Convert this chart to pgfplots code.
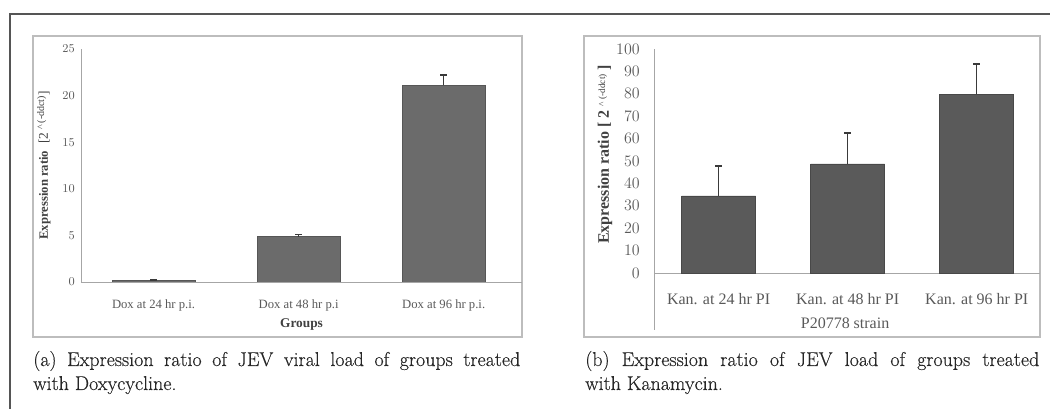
\documentclass[border=0pt]{standalone}
\usepackage{fontspec}
\usepackage{pgfplots}
\pgfplotsset{compat=1.18}
\newfontfamily\tnr{Liberation Serif}
\newfontfamily\capfont[FakeBold=0.35]{Latin Modern Roman}
\definecolor{tick}{HTML}{595959}
\definecolor{lab}{HTML}{404040}
\definecolor{axl}{HTML}{A6A6A6}
\definecolor{bara}{HTML}{6B6B6B}
\definecolor{barb}{HTML}{5A5A5A}
\definecolor{errc}{HTML}{3A3A3A}
\definecolor{frame}{HTML}{555555}
\definecolor{pbox}{HTML}{BDBDBD}
\definecolor{capc}{HTML}{262626}
\begin{document}
\begin{tikzpicture}
\useasboundingbox (0,0) rectangle (787.5pt,-306.75pt);
% outer frame
\draw[frame, line width=1.2pt] (7.5pt,-306.75pt) -- (7.5pt,-10.5pt) -- (787.5pt,-10.5pt);
% panel boxes
\draw[pbox, line width=0.8pt] (24.75pt,-27pt) rectangle (391.5pt,-252.75pt);
\draw[pbox, line width=0.8pt] (438pt,-27pt) rectangle (780pt,-252.75pt);

% ---------- panel (a) ----------
\begin{axis}[
  at={(60.75pt,-211.5pt)}, anchor=south west,
  scale only axis, width=330.75pt, height=174.75pt,
  xmin=-0.5, xmax=2.54, ymin=0, ymax=25,
  axis x line*=bottom, axis y line*=left,
  axis line style={axl, line width=0.7pt, -},
  tick style={draw=none},
  xtick=data,
  xticklabels={Dox at 24 hr p.i., Dox at 48 hr p.i, Dox at 96 hr p.i.},
  ytick={0,5,10,15,20,25},
  xticklabel style={font=\tnr\fontsize{9.5}{11}\selectfont, text=tick, anchor=center, yshift=-13.5pt, inner sep=0pt},
  yticklabel style={font=\tnr\fontsize{9.5}{11}\selectfont, text=tick, anchor=east, inner sep=0pt, xshift=-4.5pt},
  xlabel={Groups},
  xlabel style={font=\tnr\bfseries\fontsize{10}{12}\selectfont, text=lab, at={(axis description cs:0.5,0)}, anchor=center, yshift=-32.25pt},
  ylabel={{\bfseries\fontsize{9.5}{11}\selectfont Expression ratio}\ \ [2\ \raisebox{0.6ex}{\fontsize{7.5}{8}\selectfont\textasciicircum\,(-ddct)}]},
  ylabel style={font=\tnr\fontsize{10}{12}\selectfont, text=lab, at={(axis description cs:-0.084,0.5)}, anchor=center},
  ybar, bar width=62.25pt,
]
\addplot[fill=bara, draw=bara!80!black, line width=0.5pt,
  error bars/.cd, y dir=plus, y explicit,
  error bar style={errc, line width=1pt},
  error mark options={errc, rotate=90, mark size=2.5pt, line width=1pt}]
  coordinates {(0,0.15) +- (0,0.05) (1,4.85) +- (0,0.22) (2,21.1) +- (0,1.1)};
\end{axis}

% ---------- panel (b) ----------
\begin{axis}[
  at={(490.5pt,-204.75pt)}, anchor=south west,
  scale only axis, width=289.5pt, height=168pt,
  xmin=-0.5, xmax=2.49, ymin=0, ymax=100,
  axis x line*=bottom, axis y line*=left,
  axis line style={axl, line width=0.7pt, -},
  tick style={draw=none},
  xtick=data,
  xticklabels={Kan. at 24 hr PI, Kan. at 48 hr PI, Kan. at 96 hr PI},
  ytick={0,10,...,100},
  xticklabel style={font=\tnr\fontsize{12}{14}\selectfont, text=tick, anchor=center, yshift=-15pt, inner sep=0pt},
  yticklabel style={font=\tnr\fontsize{12}{14}\selectfont, text=tick, anchor=east, inner sep=0pt, xshift=-10.5pt},
  xlabel={P20778 strain},
  xlabel style={font=\tnr\fontsize{12}{14}\selectfont, text=tick, at={(axis description cs:0.495,0)}, anchor=center, yshift=-37.5pt},
  ylabel={\bfseries Expression ratio [ 2 \raisebox{0.5ex}{\mdseries\fontsize{7}{8}\selectfont\textasciicircum\ (-ddct)} ]},
  ylabel style={font=\tnr\fontsize{12}{14}\selectfont, text=lab, at={(axis description cs:-0.127,0.53)}, anchor=center},
  ybar, bar width=55.5pt,
  clip=false,
]
\draw[axl, line width=0.7pt] (rel axis cs:0,0) -- ++(0pt,-42.75pt);
\addplot[fill=barb, draw=barb!80!black, line width=0.5pt,
  error bars/.cd, y dir=plus, y explicit,
  error bar style={errc, line width=1pt},
  error mark options={errc, rotate=90, mark size=2.5pt, line width=1pt}]
  coordinates {(0,34.4) +- (0,13.4) (1,48.7) +- (0,13.8) (2,79.9) +- (0,13.4)};
\end{axis}

% captions
\node[anchor=base west, inner sep=0pt, text=capc, font=\capfont\fontsize{15}{18}\selectfont] at (24.75pt,-274.5pt)
  {\hbox to 365.25pt{(a) Expression ratio of JEV viral load of groups treated}};
\node[anchor=base west, inner sep=0pt, text=capc, font=\capfont\fontsize{15}{18}\selectfont] at (24.75pt,-292.5pt)
  {with Doxycycline.};
\node[anchor=base west, inner sep=0pt, text=capc, font=\capfont\fontsize{15}{18}\selectfont] at (438.75pt,-274.5pt)
  {\hbox to 340.5pt{(b) Expression ratio of JEV load of groups treated}};
\node[anchor=base west, inner sep=0pt, text=capc, font=\capfont\fontsize{15}{18}\selectfont] at (438.75pt,-292.5pt)
  {with Kanamycin.};
\end{tikzpicture}
\end{document}
